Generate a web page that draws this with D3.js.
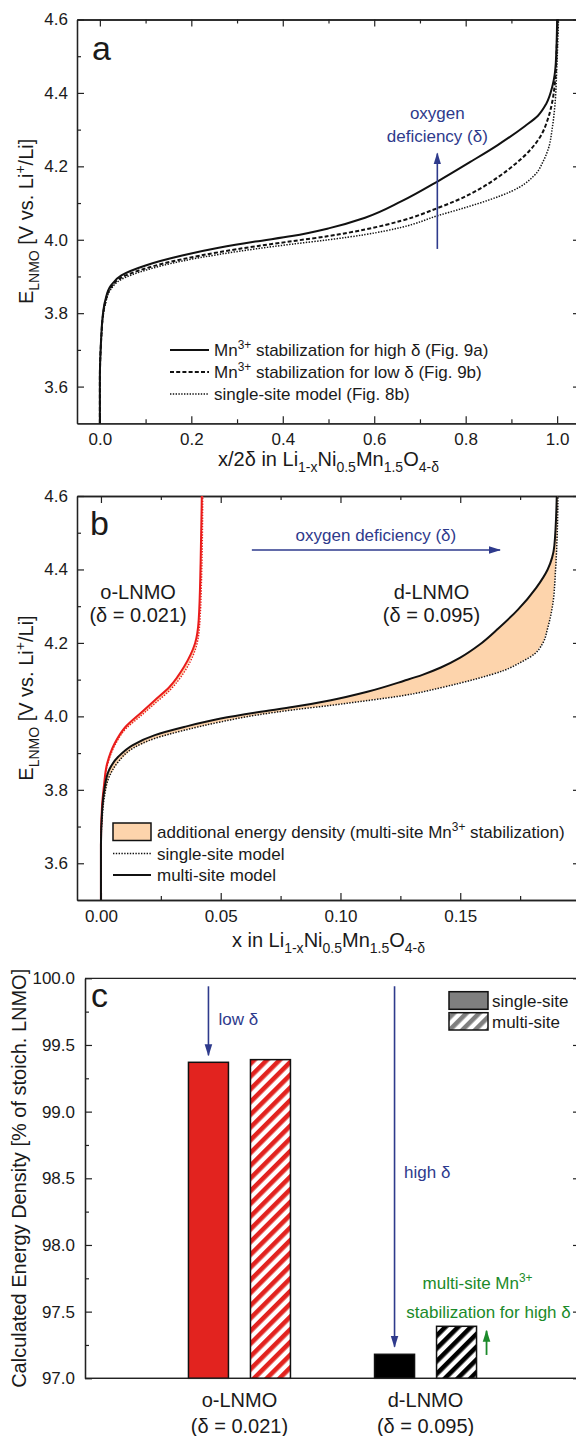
<!DOCTYPE html>
<html><head><meta charset="utf-8">
<script src="https://cdn.jsdelivr.net/npm/d3@7"></script>
<style>
body{margin:0;background:#fff}
svg{display:block}
text{font-family:"Liberation Sans",Arial,Helvetica,sans-serif;fill:#1a1a1a}
</style>
</head><body>
<svg id="chart" width="576" height="1436"></svg>
<script>
// ---------------- DATA ----------------
// Panel a: E_LNMO vs x/2δ   [x/2δ, E]
const aMultiHigh = [[0,3.5],[0,3.62],[0.001,3.68],[0.002,3.71],[0.0034,3.745],[0.006,3.79],[0.012,3.836],[0.024,3.875],[0.047,3.903],[0.1,3.93],[0.18,3.957],[0.26,3.978],[0.34,3.995],[0.42,4.01],[0.5,4.031],[0.58,4.06],[0.66,4.105],[0.74,4.16],[0.81,4.212],[0.87,4.258],[0.93,4.31],[0.958,4.338],[0.976,4.37],[0.99,4.42],[0.997,4.48],[1.0,4.6]];
const aMultiLow  = [[0,3.5],[0,3.62],[0.001,3.68],[0.002,3.708],[0.0034,3.74],[0.006,3.785],[0.012,3.83],[0.024,3.87],[0.047,3.897],[0.1,3.922],[0.18,3.947],[0.26,3.966],[0.34,3.982],[0.42,3.996],[0.5,4.01],[0.58,4.028],[0.66,4.052],[0.74,4.087],[0.78,4.107],[0.83,4.138],[0.87,4.17],[0.91,4.208],[0.94,4.243],[0.965,4.285],[0.98,4.33],[0.99,4.38],[0.996,4.44],[0.999,4.52],[1.001,4.6]];
const aSingle    = [[0,3.5],[0,3.62],[0.001,3.675],[0.002,3.705],[0.0034,3.735],[0.006,3.78],[0.012,3.825],[0.024,3.865],[0.047,3.892],[0.1,3.917],[0.18,3.942],[0.26,3.96],[0.34,3.975],[0.42,3.988],[0.5,4.0],[0.58,4.014],[0.66,4.034],[0.74,4.066],[0.8,4.088],[0.85,4.108],[0.9,4.132],[0.95,4.175],[0.97,4.215],[0.98,4.245],[0.99,4.31],[0.996,4.38],[0.999,4.46],[1.003,4.6]];
const aLegend = ["stabilization for high δ (Fig. 9a)","stabilization for low δ (Fig. 9b)","single-site model (Fig. 8b)"];

// Panel b: E_LNMO vs x   [x, E]
const bDMulti  = [[0,3.5],[0,3.65],[0.0005,3.745],[0.0014,3.8],[0.0034,3.854],[0.0072,3.89],[0.0133,3.922],[0.0225,3.949],[0.0347,3.971],[0.05,3.994],[0.0654,4.011],[0.0806,4.026],[0.096,4.044],[0.1112,4.067],[0.1266,4.097],[0.1342,4.113],[0.1419,4.133],[0.15,4.16],[0.158,4.195],[0.166,4.24],[0.174,4.29],[0.1817,4.35],[0.1865,4.4],[0.1893,4.465],[0.1903,4.6]];
const bDSingle = [[0,3.5],[0,3.65],[0.0005,3.72],[0.0014,3.78],[0.0034,3.835],[0.0072,3.876],[0.0133,3.913],[0.0225,3.94],[0.0347,3.962],[0.05,3.985],[0.0654,4.004],[0.0806,4.018],[0.096,4.03],[0.1112,4.043],[0.1266,4.057],[0.1419,4.078],[0.1572,4.103],[0.1682,4.125],[0.1755,4.148],[0.181,4.17],[0.1845,4.2],[0.1865,4.24],[0.1885,4.3],[0.1898,4.4],[0.1905,4.5],[0.1908,4.6]];
const bOMulti  = [[0,3.5],[0,3.65],[0.0004,3.75],[0.0012,3.808],[0.0026,3.872],[0.0057,3.926],[0.0102,3.971],[0.0164,4.008],[0.0225,4.044],[0.0286,4.08],[0.0347,4.135],[0.0393,4.199],[0.0408,4.262],[0.0416,4.417],[0.0421,4.6]];
const bOSingle = [[0,3.5],[0,3.65],[0.0004,3.74],[0.0012,3.8],[0.0026,3.865],[0.0057,3.92],[0.0102,3.965],[0.0164,4.0],[0.0225,4.035],[0.0286,4.07],[0.0347,4.12],[0.0393,4.18],[0.0411,4.24],[0.0421,4.4],[0.0425,4.6]];
const bLegend = ["single-site model","multi-site model"];

// Panel c: energy density bars
const barCategories  = ["o-LNMO","d-LNMO"];
const barDeltaLabels = ["(δ = 0.021)","(δ = 0.095)"];
const barSeries      = ["single-site","multi-site"];
const barSingle      = [99.37, 97.18];
const barMulti       = [99.39, 97.39];
const barColors      = ["#e2231f","#000000"];

// Ticks
const aXTicks = [0,0.2,0.4,0.6,0.8,1.0];
const aXMinor = [0.1,0.3,0.5,0.7,0.9];
const eTicks  = [3.6,3.8,4.0,4.2,4.4,4.6];
const eMinor  = [3.7,3.9,4.1,4.3,4.5];
const bXTicks = [0,0.05,0.10,0.15];
const bXMinor = [0.025,0.075,0.125,0.175];
const cYTicks = [97.0,97.5,98.0,98.5,99.0,99.5,100.0];
const cYMinor = [97.25,97.75,98.25,98.75,99.25,99.75];

// ---------------- DRAWING ----------------
const svg = d3.select("#chart");
svg.append("rect").attr("width",576).attr("height",1436).attr("fill","#fff");
const defs = svg.append("defs");
const BLUE = "#2e3a8c", GREEN = "#1b8a2a", PEACH = "#fdd4ac", REDLINE = "#ea1c1c";

function marker(id, color){
  defs.append("marker").attr("id",id).attr("viewBox","0 -5 12 10")
    .attr("refX",11).attr("refY",0).attr("markerUnits","userSpaceOnUse")
    .attr("markerWidth",12).attr("markerHeight",10).attr("orient","auto")
    .append("path").attr("d","M0,-3.8L12,0L0,3.8Z").attr("fill",color);
}
marker("arrBlue",BLUE); marker("arrGreen",GREEN);

function hatch(id, color){
  const p = defs.append("pattern").attr("id",id).attr("patternUnits","userSpaceOnUse")
    .attr("width",9).attr("height",9).attr("patternTransform","rotate(45)");
  p.append("rect").attr("width",9).attr("height",9).attr("fill","#fff");
  p.append("rect").attr("width",4.6).attr("height",9).attr("fill",color);
}
hatch("hatch0",barColors[0]); hatch("hatch1",barColors[1]); hatch("hatchGrey","#7f7f7f");

function rich(t, parts, fs){
  let cur = 0;
  parts.forEach(([s,k])=>{
    const target = k==="sub" ? fs*0.32 : (k==="sup" ? -fs*0.42 : 0);
    t.append("tspan").attr("dy", target-cur).attr("font-size", k==="n"?fs:fs*0.7).text(s);
    cur = target;
  });
}

function styleAxis(g){
  g.select(".domain").attr("stroke","#222").attr("stroke-width",1.3);
  g.selectAll(".tick line").attr("stroke","#222").attr("stroke-width",1.2);
  g.selectAll(".tick text").attr("font-size",17).attr("fill","#1a1a1a")
    .attr("font-family",'"Liberation Sans",Arial,sans-serif');
  g.attr("font-family",null).attr("font-size",null);
}

function frameAxes(x, y, o){
  const [x0,x1] = x.range(), [yb,yt] = y.range();
  if(o.xMajor){
    svg.append("g").attr("transform",`translate(0,${yb})`)
      .call(d3.axisBottom(x).tickValues(o.xMinor).tickFormat("").tickSizeInner(-4).tickSizeOuter(0)).call(styleAxis);
    svg.append("g").attr("transform",`translate(0,${yb})`)
      .call(d3.axisBottom(x).tickValues(o.xMajor).tickFormat(d3.format(o.xFmt)).tickSizeInner(-7).tickSizeOuter(0).tickPadding(10)).call(styleAxis);
    svg.append("g").attr("transform",`translate(0,${yt})`)
      .call(d3.axisTop(x).tickValues(o.xMinor).tickFormat("").tickSizeInner(-4).tickSizeOuter(0)).call(styleAxis);
    svg.append("g").attr("transform",`translate(0,${yt})`)
      .call(d3.axisTop(x).tickValues(o.xMajor).tickFormat("").tickSizeInner(-7).tickSizeOuter(0)).call(styleAxis);
  } else {
    svg.append("line").attr("x1",x0).attr("x2",x1).attr("y1",yb).attr("y2",yb).attr("stroke","#222").attr("stroke-width",1.3);
    svg.append("line").attr("x1",x0).attr("x2",x1).attr("y1",yt).attr("y2",yt).attr("stroke","#222").attr("stroke-width",1.3);
  }
  svg.append("g").attr("transform",`translate(${x0},0)`)
    .call(d3.axisLeft(y).tickValues(o.yMinor).tickFormat("").tickSizeInner(-4).tickSizeOuter(0)).call(styleAxis);
  svg.append("g").attr("transform",`translate(${x0},0)`)
    .call(d3.axisLeft(y).tickValues(o.yMajor).tickFormat(d3.format(o.yFmt)).tickSizeInner(-7).tickSizeOuter(0).tickPadding(o.yPad||9)).call(styleAxis);
  svg.append("g").attr("transform",`translate(${x1},0)`)
    .call(d3.axisRight(y).tickValues(o.yMinor).tickFormat("").tickSizeInner(-4).tickSizeOuter(0)).call(styleAxis);
  svg.append("g").attr("transform",`translate(${x1},0)`)
    .call(d3.axisRight(y).tickValues(o.yMajor).tickFormat("").tickSizeInner(-7).tickSizeOuter(0)).call(styleAxis);
}

function fillBetween(x, y, upper, lower){
  const ln = d3.line().x(d=>x(d[0])).y(d=>y(d[1]));
  return ln(upper.concat(lower.slice().reverse())) + "Z";
}

function formulaLabel(cx, by, prefix){
  const t = svg.append("text").attr("x",cx).attr("y",by).attr("text-anchor","middle");
  rich(t, [[prefix+"Li","n"],["1-x","sub"],["Ni","n"],["0.5","sub"],["Mn","n"],["1.5","sub"],["O","n"],["4-δ","sub"]], 20);
}
function eLabel(cx, cy){
  const t = svg.append("text").attr("transform",`translate(${cx},${cy}) rotate(-90)`).attr("text-anchor","middle");
  rich(t, [["E","n"],["LNMO","sub"],[" [V vs. Li","n"],["+","sup"],["/Li]","n"]], 20);
}

// ===== Panel a =====
const xA = d3.scaleLinear().domain([-0.05,1.05]).range([77,580]);
const yA = d3.scaleLinear().domain([3.5,4.6]).range([423.3,19.5]);
frameAxes(xA, yA, {xMajor:aXTicks, xMinor:aXMinor, xFmt:".1f", yMajor:eTicks, yMinor:eMinor, yFmt:".1f"});
const lineA = d3.line().x(d=>xA(d[0])).y(d=>yA(d[1])).curve(d3.curveMonotoneY);
svg.append("path").attr("d",lineA(aSingle)).attr("fill","none").attr("stroke","#111").attr("stroke-width",1.5).attr("stroke-dasharray","1.4,1.4");
svg.append("path").attr("d",lineA(aMultiLow)).attr("fill","none").attr("stroke","#111").attr("stroke-width",2).attr("stroke-dasharray","4,2.2");
svg.append("path").attr("d",lineA(aMultiHigh)).attr("fill","none").attr("stroke","#111").attr("stroke-width",2);

svg.append("text").attr("x",92).attr("y",60).attr("font-size",34).text("a");
svg.append("line").attr("x1",xA(0.738)).attr("x2",xA(0.738)).attr("y1",yA(3.975)).attr("y2",yA(4.235))
  .attr("stroke",BLUE).attr("stroke-width",1.6).attr("marker-end","url(#arrBlue)");
svg.append("text").attr("x",xA(0.738)).attr("y",119).attr("text-anchor","middle").attr("font-size",17).style("fill",BLUE).text("oxygen");
svg.append("text").attr("x",xA(0.738)).attr("y",142).attr("text-anchor","middle").attr("font-size",17).style("fill",BLUE).text("deficiency (δ)");
const aStyles = [{w:2,da:null},{w:2,da:"4,2.2"},{w:1.5,da:"1.4,1.4"}];
aLegend.forEach((s,i)=>{
  const cy = 350 + i*22;
  svg.append("line").attr("x1",170).attr("x2",209).attr("y1",cy).attr("y2",cy)
    .attr("stroke","#111").attr("stroke-width",aStyles[i].w).attr("stroke-dasharray",aStyles[i].da);
  const t = svg.append("text").attr("x",214).attr("y",cy+6);
  if(i<2) rich(t, [["Mn","n"],["3+","sup"],[" "+s,"n"]], 17);
  else t.attr("font-size",17).text(s);
});
formulaLabel(328.5, 466, "x/2δ in ");
eLabel(33, (yA.range()[0]+yA.range()[1])/2);

// ===== Panel b =====
const xB = d3.scaleLinear().domain([-0.01,0.2]).range([77,580]);
const yB = d3.scaleLinear().domain([3.5,4.6]).range([900,496]);
frameAxes(xB, yB, {xMajor:bXTicks, xMinor:bXMinor, xFmt:".2f", yMajor:eTicks, yMinor:eMinor, yFmt:".1f"});
svg.append("path").attr("d",fillBetween(xB,yB,bDMulti,bDSingle)).attr("fill",PEACH);
svg.append("path").attr("d",fillBetween(xB,yB,bOMulti,bOSingle)).attr("fill",PEACH);
const lineB = d3.line().x(d=>xB(d[0])).y(d=>yB(d[1])).curve(d3.curveMonotoneY);
svg.append("path").attr("d",lineB(bOSingle)).attr("fill","none").attr("stroke",REDLINE).attr("stroke-width",1.4).attr("stroke-dasharray","1.4,1.4");
svg.append("path").attr("d",lineB(bOMulti)).attr("fill","none").attr("stroke",REDLINE).attr("stroke-width",2);
svg.append("path").attr("d",lineB(bDSingle)).attr("fill","none").attr("stroke","#111").attr("stroke-width",1.5).attr("stroke-dasharray","1.4,1.4");
svg.append("path").attr("d",lineB(bDMulti)).attr("fill","none").attr("stroke","#111").attr("stroke-width",2);

svg.append("text").attr("x",90).attr("y",535).attr("font-size",34).text("b");
svg.append("line").attr("x1",xB(0.063)).attr("x2",xB(0.1666)).attr("y1",yB(4.453)).attr("y2",yB(4.453))
  .attr("stroke",BLUE).attr("stroke-width",1.6).attr("marker-end","url(#arrBlue)");
svg.append("text").attr("x",xB(0.1148)).attr("y",yB(4.4775)).attr("text-anchor","middle").attr("font-size",17).style("fill",BLUE).text("oxygen deficiency (δ)");
[[0.0155, barCategories[0], barDeltaLabels[0]],[0.138, barCategories[1], barDeltaLabels[1]]].forEach(([xv,a,b])=>{
  svg.append("text").attr("x",xB(xv)).attr("y",yB(4.319)).attr("text-anchor","middle").attr("font-size",20).text(a);
  svg.append("text").attr("x",xB(xv)).attr("y",yB(4.257)).attr("text-anchor","middle").attr("font-size",20).text(b);
});
svg.append("rect").attr("x",113).attr("y",823).attr("width",38).attr("height",17.5).attr("fill",PEACH).attr("stroke","#111").attr("stroke-width",1.5);
const tb = svg.append("text").attr("x",157).attr("y",838);
rich(tb, [["additional energy density (multi-site Mn","n"],["3+","sup"],[" stabilization)","n"]], 17);
bLegend.forEach((s,i)=>{
  const cy = 853.5 + i*21.5;
  svg.append("line").attr("x1",113).attr("x2",151).attr("y1",cy).attr("y2",cy).attr("stroke","#111")
    .attr("stroke-width", i===0?1.5:2).attr("stroke-dasharray", i===0?"1.4,1.4":null);
  svg.append("text").attr("x",157).attr("y",cy+6).attr("font-size",17).text(s);
});
formulaLabel(328.5, 947, "x in ");
eLabel(33, (yB.range()[0]+yB.range()[1])/2);

// ===== Panel c =====
const xC = d3.scaleBand().domain(barCategories).range([85,580]).paddingInner(0.3).paddingOuter(0.48);
const xS = d3.scaleBand().domain(barSeries).range([0,xC.bandwidth()]).paddingInner(0.355).paddingOuter(0.228);
const yC = d3.scaleLinear().domain([97,100]).range([1378.3,978.3]);
frameAxes(xC, yC, {yMajor:cYTicks, yMinor:cYMinor, yFmt:".1f", yPad:10});

const barData = [];
barCategories.forEach((c,i)=>{
  barData.push({c, s:barSeries[0], v:barSingle[i], fill:barColors[i]});
  barData.push({c, s:barSeries[1], v:barMulti[i], fill:`url(#hatch${i})`});
});
svg.append("g").selectAll("rect").data(barData).join("rect")
  .attr("x",d=>xC(d.c)+xS(d.s)).attr("width",xS.bandwidth())
  .attr("y",d=>yC(d.v)).attr("height",d=>yC(97)-yC(d.v))
  .attr("fill",d=>d.fill).attr("stroke","#111").attr("stroke-width",1.5);
svg.append("line").attr("x1",85).attr("x2",580).attr("y1",yC(97)).attr("y2",yC(97)).attr("stroke","#222").attr("stroke-width",1.3);

barCategories.forEach((c,i)=>{
  const cx = xC(c)+xC.bandwidth()/2;
  svg.append("text").attr("x",cx).attr("y",1407).attr("text-anchor","middle").attr("font-size",20).text(c);
  svg.append("text").attr("x",cx).attr("y",1433).attr("text-anchor","middle").attr("font-size",20).text(barDeltaLabels[i]);
});
svg.append("text").attr("x",91).attr("y",1007).attr("font-size",34).text("c");

const sx0 = xC(barCategories[0])+xS(barSeries[0])+xS.bandwidth()/2;
const sx1 = xC(barCategories[1])+xS(barSeries[0])+xS.bandwidth()/2;
svg.append("line").attr("x1",sx0).attr("x2",sx0).attr("y1",yC(99.94)).attr("y2",yC(barSingle[0])-7)
  .attr("stroke",BLUE).attr("stroke-width",1.6).attr("marker-end","url(#arrBlue)");
svg.append("text").attr("x",sx0+10).attr("y",yC(99.65)).attr("font-size",17).style("fill",BLUE).text("low δ");
svg.append("line").attr("x1",sx1).attr("x2",sx1).attr("y1",yC(99.94)).attr("y2",yC(barSingle[1])-7.5)
  .attr("stroke",BLUE).attr("stroke-width",1.6).attr("marker-end","url(#arrBlue)");
svg.append("text").attr("x",sx1+9.5).attr("y",yC(98.505)).attr("font-size",17).style("fill",BLUE).text("high δ");
const gx = xC(barCategories[1])+xS(barSeries[1])+xS.bandwidth()+10;
svg.append("line").attr("x1",gx).attr("x2",gx).attr("y1",yC(97.175)).attr("y2",yC(barMulti[1])+4.5)
  .attr("stroke",GREEN).attr("stroke-width",1.8).attr("marker-end","url(#arrGreen)");
const tg = svg.append("text").attr("x",gx-9).attr("y",1289).attr("text-anchor","middle").style("fill",GREEN);
rich(tg, [["multi-site Mn","n"],["3+","sup"]], 17);
svg.append("text").attr("x",gx+2).attr("y",1318).attr("text-anchor","middle").attr("font-size",17).style("fill",GREEN).text("stabilization for high δ");

svg.append("rect").attr("x",449).attr("y",991.7).attr("width",39).attr("height",17.6).attr("fill","#7f7f7f").attr("stroke","#111").attr("stroke-width",1.5);
svg.append("rect").attr("x",449).attr("y",1012.7).attr("width",39).attr("height",17.3).attr("fill","url(#hatchGrey)").attr("stroke","#111").attr("stroke-width",1.5);
barSeries.forEach((s,i)=>{
  svg.append("text").attr("x",492).attr("y",1006.5+i*21).attr("font-size",17).text(s);
});
svg.append("text").attr("transform",`translate(26,${(yC.range()[0]+yC.range()[1])/2}) rotate(-90)`)
  .attr("text-anchor","middle").attr("font-size",20).text("Calculated Energy Density [% of stoich. LNMO]");
</script>
</body></html>
